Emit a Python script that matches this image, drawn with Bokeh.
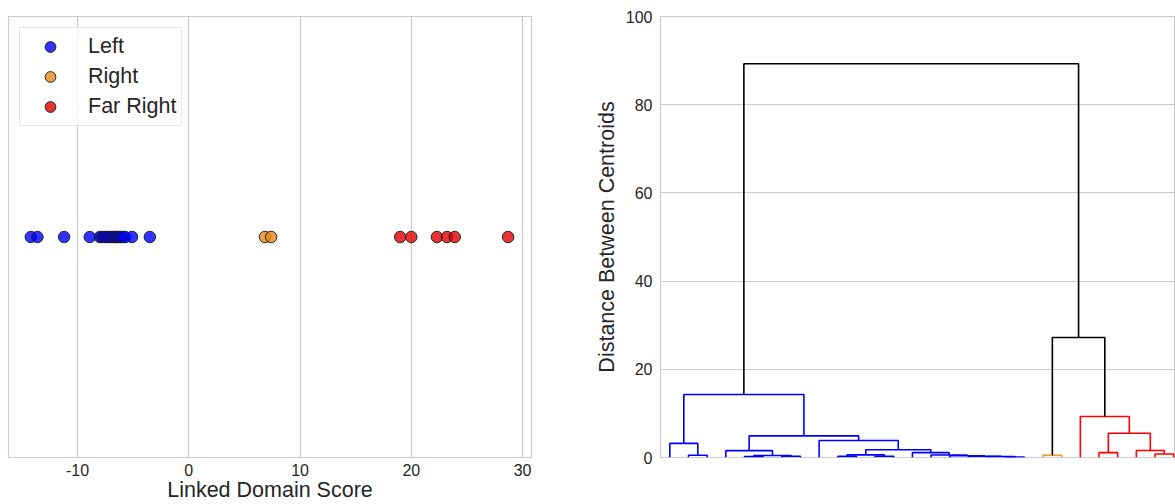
from bokeh.plotting import figure
from bokeh.layouts import row
from bokeh.models import Range1d, FixedTicker, Legend, LegendItem, PrintfTickFormatter
from bokeh.embed import file_html
from bokeh.resources import INLINE

FONT = "Liberation Sans"
TEXT = "#262626"
GRID = "#cccccc"

# ---------------- data ----------------
left_scores = [-14.2, -13.6, -11.2, -8.9, -8.0, -7.8, -7.6, -7.4, -7.2, -7.0,
               -6.8, -6.6, -6.5, -6.4, -6.2, -6.1, -5.9, -5.7, -5.1, -3.5]
right_scores = [6.85, 7.4]
far_right_scores = [19.0, 20.0, 22.3, 23.2, 23.9, 28.7]
group_names = ["Left", "Right", "Far Right"]
group_colors = ["#0000ff", "#e88815", "#dc0000"]
x_ticks = [-10, 0, 10, 20, 30]

# dendrogram: 28 leaves (display order), merges -> new node ids 28..54
n_leaves = 28
link_left = [1, 0, 4, 6, 30, 3, 9, 11, 34, 18, 17, 16, 15, 14, 13, 36, 8, 33, 29,
             20, 23, 26, 25, 48, 22, 47, 46]
link_right = [2, 28, 5, 7, 31, 32, 10, 12, 35, 19, 37, 38, 39, 40, 41, 42, 43, 44, 45,
              21, 24, 27, 49, 50, 51, 52, 53]
link_height = [0.5, 3.2, 0.2, 0.3, 0.45, 1.55, 0.25, 0.3, 0.6, 0.1, 0.2, 0.3, 0.4, 0.55,
               1.1, 1.75, 3.85, 4.9, 14.3, 0.5, 1.1, 0.8, 1.6, 5.5, 9.3, 27.2, 89.3]
link_color = ["blue"] * 19 + ["orange"] + ["red"] * 5 + ["black"] * 2
color_map = {"blue": "#0000ff", "orange": "#f09a28", "red": "#ff0000", "black": "#000000"}
y_ticks = [0, 20, 40, 60, 80, 100]

# ---------------- left panel ----------------
p1 = figure(width=560, height=504, x_range=Range1d(-16.2, 30.8), y_range=Range1d(-1, 1),
            output_backend="svg", toolbar_location=None, y_axis_location=None,
            min_border_left=8, min_border_right=29, min_border_top=16, min_border_bottom=47)
p1.outline_line_color = GRID
p1.outline_line_width = 1.2
p1.xgrid.grid_line_color = GRID
p1.xgrid.grid_line_width = 1.2
p1.ygrid.grid_line_color = None
p1.xaxis.ticker = FixedTicker(ticks=x_ticks)
p1.xaxis.formatter = PrintfTickFormatter(format="%d")
p1.xaxis.axis_line_color = None
p1.xaxis.major_tick_line_color = None
p1.xaxis.minor_tick_line_color = None
p1.xaxis.major_tick_out = 0
p1.xaxis.major_tick_in = 0
p1.xaxis.minor_tick_out = 0
p1.xaxis.major_label_text_font = FONT
p1.xaxis.major_label_text_font_size = "16px"
p1.xaxis.major_label_text_color = TEXT
p1.xaxis.major_label_standoff = 6
p1.xaxis.axis_label = "Linked Domain Score"
p1.xaxis.axis_label_text_font = FONT
p1.xaxis.axis_label_text_font_size = "21.5px"
p1.xaxis.axis_label_text_font_style = "normal"
p1.xaxis.axis_label_text_color = TEXT
p1.xaxis.axis_label_text_line_height = 0.9
p1.xaxis.axis_label_standoff = -1

items = []
for name, col, vals in zip(group_names, group_colors, [left_scores, right_scores, far_right_scores]):
    r = p1.scatter(x=vals, y=[0] * len(vals), size=11.5, fill_color=col, fill_alpha=0.8,
                   line_color="#1a1a1a", line_alpha=0.9, line_width=1)
    items.append(LegendItem(label=name, renderers=[r]))

legend = Legend(items=items, location="top_left", margin=11, padding=5,
                label_text_font=FONT, label_text_font_size="21.5px", label_text_color=TEXT,
                label_height=27, glyph_height=27, glyph_width=50, label_standoff=13, spacing=3,
                border_line_color=GRID, border_line_width=1.2,
                background_fill_color="white", background_fill_alpha=0.8)
p1.add_layout(legend)

# ---------------- right panel (dendrogram) ----------------
pos = {i: 5 + 10 * i for i in range(n_leaves)}
hgt = {i: 0.0 for i in range(n_leaves)}
xs, ys, cols = [], [], []
for k, (a, b, h, c) in enumerate(zip(link_left, link_right, link_height, link_color)):
    nid = n_leaves + k
    xa, xb = pos[a], pos[b]
    xs.append([xa, xa, xb, xb])
    ys.append([hgt[a], h, h, hgt[b]])
    cols.append(color_map[c])
    pos[nid] = (xa + xb) / 2
    hgt[nid] = h

p2 = figure(width=615, height=504, x_range=Range1d(0, 276), y_range=Range1d(0, 100),
            output_backend="svg", toolbar_location=None, x_axis_location=None,
            min_border_left=100, min_border_right=0, min_border_top=16, min_border_bottom=47)
p2.outline_line_color = GRID
p2.outline_line_width = 1.2
p2.xgrid.grid_line_color = None
p2.ygrid.grid_line_color = GRID
p2.ygrid.grid_line_width = 1.2
p2.yaxis.ticker = FixedTicker(ticks=y_ticks)
p2.yaxis.axis_line_color = None
p2.yaxis.major_tick_line_color = None
p2.yaxis.minor_tick_line_color = None
p2.yaxis.major_tick_out = 0
p2.yaxis.major_tick_in = 0
p2.yaxis.minor_tick_out = 0
p2.yaxis.major_label_text_font = FONT
p2.yaxis.major_label_text_font_size = "16px"
p2.yaxis.major_label_text_color = TEXT
p2.yaxis.major_label_standoff = 8
p2.yaxis.axis_label = "Distance Between Centroids"
p2.yaxis.axis_label_text_font = FONT
p2.yaxis.axis_label_text_font_size = "21.5px"
p2.yaxis.axis_label_text_font_style = "normal"
p2.yaxis.axis_label_text_color = TEXT
p2.yaxis.axis_label_standoff = 4

p2.multi_line(xs=xs, ys=ys, line_color=cols, line_width=1.6)

layout = row(p1, p2)
open("out.html", "w").write(file_html(layout, INLINE))
